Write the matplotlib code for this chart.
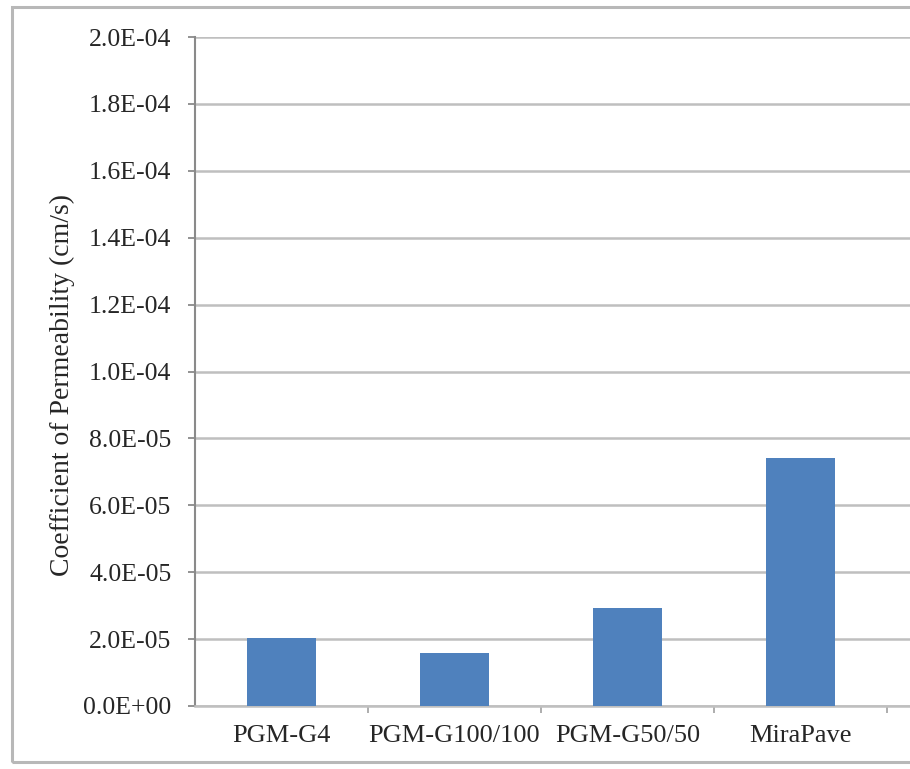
import matplotlib.pyplot as plt
from matplotlib.patches import Rectangle
from matplotlib.ticker import FuncFormatter, FixedLocator

# permeability results per geosynthetic interlayer
categories = ["PGM-G4", "PGM-G100/100", "PGM-G50/50", "MiraPave"]
permeability = [2.03e-5, 1.58e-5, 2.93e-5, 7.42e-5]
y_ticks = [i * 2e-5 for i in range(11)]

plt.rcParams["font.family"] = ["Liberation Serif", "DejaVu Serif"]

fig = plt.figure(figsize=(9.1, 7.69), dpi=100)

# chart frame (the right side runs off the page)
fig.patches.append(Rectangle((12 / 910, 1 - 762 / 769), 1.2, (762 - 7) / 769,
                             transform=fig.transFigure, fill=False,
                             edgecolor="#b8b8b8", linewidth=2.2, zorder=0))

ax = fig.add_axes([195 / 910, 63 / 769, 865 / 910, 669 / 769])

x = range(len(categories))
ax.bar(x, permeability, width=0.4, color="#4f81bd", zorder=3)

ax.set_xlim(-0.5, 4.5)
ax.set_ylim(0, 2e-4)
ax.set_yticks(y_ticks)
ax.yaxis.set_major_formatter(FuncFormatter(lambda v, _: "{:.1E}".format(v)))
ax.set_xticks(list(x))
ax.set_xticklabels(categories)
ax.xaxis.set_minor_locator(FixedLocator([0.5, 1.5, 2.5, 3.5]))

ax.grid(axis="y", color="#bfbfbf", linewidth=1.8, zorder=0)
ax.set_axisbelow(True)

for s in ["top", "right"]:
    ax.spines[s].set_visible(False)
ax.spines["left"].set_color("#8a8a8a")
ax.spines["bottom"].set_color("#bfbfbf")
ax.spines["left"].set_linewidth(1.5)
ax.spines["bottom"].set_linewidth(1.8)

ax.tick_params(axis="y", length=5, width=1.3, color="#8a8a8a",
               labelsize=18.5, pad=12, labelcolor="#262626")
ax.tick_params(axis="x", which="major", length=0, labelsize=19, pad=14,
               labelcolor="#262626")
ax.tick_params(axis="x", which="minor", length=5, width=1.2,
               color="#a0a0a0")

ax.set_ylabel("Coefficient of Permeability (cm/s)", fontsize=20,
              color="#262626")
ax.yaxis.set_label_coords(-0.139, 0.48)

fig.savefig("out.png", dpi=100)
